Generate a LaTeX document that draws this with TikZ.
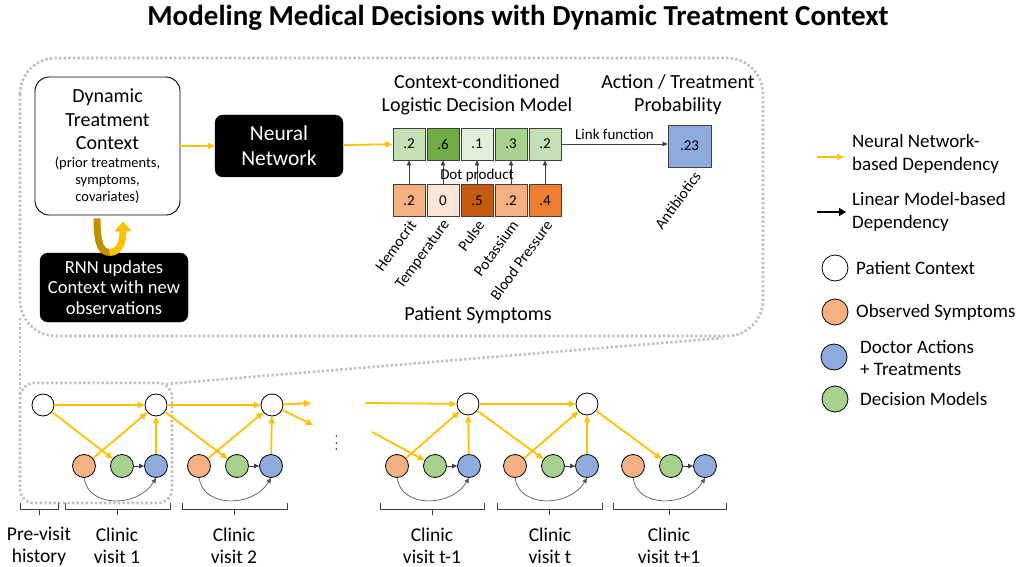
\documentclass[tikz,border=0pt]{standalone}
\usepackage{fontspec}
\setmainfont{Carlito}
\usetikzlibrary{arrows.meta,calc}

\definecolor{nnyellow}{HTML}{FFC000}
\definecolor{golddark}{HTML}{BF9000}
\definecolor{zoomgray}{HTML}{BFBFBF}
\definecolor{gA}{HTML}{C5E0B4}
\definecolor{gB}{HTML}{70AD47}
\definecolor{gC}{HTML}{E2F0D9}
\definecolor{gD}{HTML}{A9D18E}
\definecolor{oA}{HTML}{F4B183}
\definecolor{oB}{HTML}{FBE5D6}
\definecolor{oC}{HTML}{C55A11}
\definecolor{oD}{HTML}{ED7D31}
\definecolor{actblue}{HTML}{8FAADC}
\definecolor{obsorange}{HTML}{F4B183}
\definecolor{decgreen}{HTML}{A9D18E}

\newcommand\fsz[2]{\fontsize{#1}{#2}\selectfont}

\begin{document}
\begin{tikzpicture}[x=1pt,y=-1pt,
  nnarrow/.style={draw=nnyellow, line width=1.8pt, -{Triangle[length=7pt,width=6pt]}},
  linarrow/.style={draw=black!75, line width=0.7pt, -{Triangle[length=5pt,width=4.5pt]}},
  curvearrow/.style={draw=black!65, line width=0.7pt, -{Triangle[length=5pt,width=4.5pt]}},
  zoomline/.style={draw=zoomgray, line width=2.6pt, dash pattern=on 2.4pt off 2.2pt},
  ctxnode/.style={circle, draw=black, line width=0.8pt, fill=white, minimum size=22pt, inner sep=0pt},
  obsnode/.style={ctxnode, fill=obsorange, minimum size=23pt},
  decnode/.style={ctxnode, fill=decgreen, minimum size=23pt},
  actnode/.style={ctxnode, fill=actblue, minimum size=23pt},
  legcircle/.style={ctxnode, minimum size=26pt},
  cell/.style={draw=black!75, line width=0.8pt, minimum size=32pt, inner sep=0pt, font=\fsz{15}{17}},
  feat/.style={anchor=east, rotate=54, inner sep=0pt, font=\fsz{15.5}{18}},
  head/.style={align=center, font=\fsz{20}{23}},
  blackbox/.style={fill=black, draw=black, rounded corners=8pt, text=white, align=center},
  legtext/.style={anchor=west, align=left, font=\fsz{19}{22.5}, inner sep=0pt},
  visit/.style={align=center, font=\fsz{19.5}{22}},
  bracket/.style={draw=black!75, line width=0.8pt}
]
\useasboundingbox (0,0) rectangle (1018,567);

% ---------- title ----------
\node[font=\fsz{29}{32}\bfseries] (title) at (518,18) {Modeling Medical Decisions with Dynamic Treatment Context};

% ---------- zoom outline ----------
\draw[zoomline, rounded corners=36pt] (20,58) rectangle (763,336);
\draw[zoomline] (20,318) -- (20,392);
\draw[zoomline, rounded corners=14pt] (20,383) rectangle (172,503);
\draw[zoomline] (166,384) -- (722,338);

% ---------- upper panel ----------
\node[draw=black, line width=0.9pt, rounded corners=14pt, fill=white,
      minimum width=145pt, minimum height=138pt, align=center, inner sep=0pt,
      font=\fsz{20}{23.5}]
  (dtc) at (107.5,146)
  {Dynamic\\Treatment\\Context\\[-6pt]
   {\fsz{14.5}{17}(prior treatments,}\\[-6.5pt]{\fsz{14.5}{17}symptoms,}\\[-6.5pt]{\fsz{14.5}{17}covariates)}};

\node[blackbox, minimum width=128pt, minimum height=62pt, font=\fsz{21.5}{25}]
  (nn) at (279,146) {Neural\\Network};

\node[blackbox, minimum width=148pt, minimum height=69pt, font=\fsz{18.5}{20.5}]
  (rnn) at (114,287.5) {RNN updates\\Context with new\\observations};

% recurrent update loop between context and RNN box
\draw[golddark, line width=7pt]
  ($(dtc.south)+(-10.5,3)$) .. controls ($(dtc.south)+(-10.5,30)$) and ($(dtc.south)+(-6,37)$) .. ($(dtc.south)+(2.5,37)$);
\draw[nnyellow, line width=7pt, -{Triangle[length=10pt,width=17pt]}]
  ($(dtc.south)+(2,37)$) .. controls ($(dtc.south)+(10,37)$) and ($(dtc.south)+(15.5,30)$) .. ($(dtc.south)+(15.5,6)$);

\draw[nnarrow] (dtc) -- (nn);

% decision model weights and symptom values
\node[head] (dmhead) at (477,95) {Context-conditioned\\Logistic Decision Model};
\node[head] (probhead) at (678,95) {Action / Treatment\\Probability};

\foreach \i/\v/\c in {1/.2/gA,2/.6/gB,3/.1/gC,4/.3/gD,5/.2/gA}
  \node[cell, fill=\c] (w\i) at ({375+34*\i},144) {\v};

\foreach \i/\v/\c/\n in {1/.2/oA/Hemocrit,2/0/oB/Temperature,3/.5/oC/Pulse,4/.2/oA/Potassium,5/.4/oD/Blood Pressure}{
  \node[cell, fill=\c] (s\i) at ({375+34*\i},200.5) {\v};
  \draw[linarrow] (s\i) -- (w\i);
  \node[feat] (f\i) at ($(s\i.south)+(4,5)$) {\n};
}
\node[font=\fsz{15}{17}] (dot) at (477,176) {Dot product};
\node[head] (symhead) at (478,315) {Patient Symptoms};

\draw[nnarrow] (nn) -- (w1);

\node[cell, fill=actblue, minimum width=43pt, minimum height=42pt] (ab) at (689.5,146) {.23};
\draw[linarrow] (w5.east) -- (w5.east -| ab.west) node[midway, above=1pt, font=\fsz{15}{17}] (link) {Link function};
\node[feat] (abl) at ($(ab.south)+(8,6)$) {Antibiotics};

% ---------- legend ----------
\coordinate (ly1) at (817,157);
\coordinate (ly2) at (844,157);
\draw[nnarrow] (ly1) -- (ly2);
\node[legtext] (lyt) at (852,154) {Neural Network-\\based Dependency};
\coordinate (lb1) at (817,212);
\coordinate (lb2) at (846,212);
\draw[draw=black, line width=2.4pt, -{Triangle[length=7pt,width=8pt]}] (lb1) -- (lb2);
\node[legtext] (lbt) at (852,212) {Linear Model-based\\Dependency};

\node[legcircle] (lc1) at (835,268) {};
\node[legtext] (lt1) at (856,268) {Patient Context};
\node[legcircle, fill=obsorange] (lc2) at (835,312) {};
\node[legtext] (lt2) at (856,312) {Observed Symptoms};
\node[legcircle, fill=actblue] (lc3) at (834,357) {};
\node[legtext] (lt3) at (860,358) {Doctor Actions\\+ Treatments};
\node[legcircle, fill=decgreen] (lc4) at (835,399) {};
\node[legtext] (lt4) at (860,399) {Decision Models};

% ---------- unrolled model over clinic visits ----------
\node[ctxnode] (c0) at (43,405) {};
\node[ctxnode] (c1) at (156,405) {};
\node[ctxnode] (c2) at (272,405) {};
\node[ctxnode] (cA) at (468,404) {};
\node[ctxnode] (cB) at (587,404) {};

\foreach \n/\x in {1/84,2/199,A/397,B/515,C/633}{
  \node[obsnode] (o\n) at (\x,466) {};
  \node[decnode] (d\n) at (\x+38,466) {};
  \node[actnode] (a\n) at (\x+72,466) {};
  \draw[linarrow] (d\n) -- (a\n);
  \draw[curvearrow] (o\n.south) .. controls ($(o\n.south)+(4,30)$) and ($(a\n.south)+(-18,30)$) .. (a\n.south);
}

% visit 1
\draw[nnarrow] (c0) -- (c1);
\draw[nnarrow] (c0) -- (d1);
\draw[nnarrow] (o1) -- (c1);
\draw[nnarrow] (a1) -- (c1);
% visit 2
\draw[nnarrow] (c1) -- (c2);
\draw[nnarrow] (c1) -- (d2);
\draw[nnarrow] (o2) -- (c2);
\draw[nnarrow] (a2) -- (c2);
\coordinate (out1) at (311,403);
\coordinate (out2) at (313,425);
\draw[nnarrow] (c2) -- (out1);
\draw[nnarrow] (c2) -- (out2);

\node[font=\fsz{14}{14}] (dots) at (337,443) {\rotatebox{90}{$\cdots$}};

% visits t-1, t, t+1
\coordinate (in1) at (365,403);
\coordinate (in2) at (372,432);
\draw[nnarrow] (in1) -- (cA);
\draw[nnarrow] (in2) -- (dA);
\draw[nnarrow] (oA) -- (cA);
\draw[nnarrow] (aA) -- (cA);
\draw[nnarrow] (cA) -- (cB);
\draw[nnarrow] (cA) -- (dB);
\draw[nnarrow] (oB) -- (cB);
\draw[nnarrow] (aB) -- (cB);
\draw[nnarrow] (cB) -- (dC);

% ---------- brackets and visit labels ----------
\foreach \a/\b in {20/58, 65/170, 182/287, 380/484, 497/602, 613/726}{
  \draw[bracket] (\a,503) -- (\a,509) -- (\b,509) -- (\b,503);
  \draw[bracket] ({(\a+\b)/2},509) -- ({(\a+\b)/2},515);
}
\node[visit] (v0) at (39,546) {Pre-visit\\history};
\node[visit] (v1) at (117,546) {Clinic\\visit 1};
\node[visit] (v2) at (234,546) {Clinic\\visit 2};
\node[visit] (vA) at (432,546) {Clinic\\visit t-1};
\node[visit] (vB) at (550,546) {Clinic\\visit t};
\node[visit] (vC) at (669,546) {Clinic\\visit t+1};
\end{tikzpicture}
\end{document}
